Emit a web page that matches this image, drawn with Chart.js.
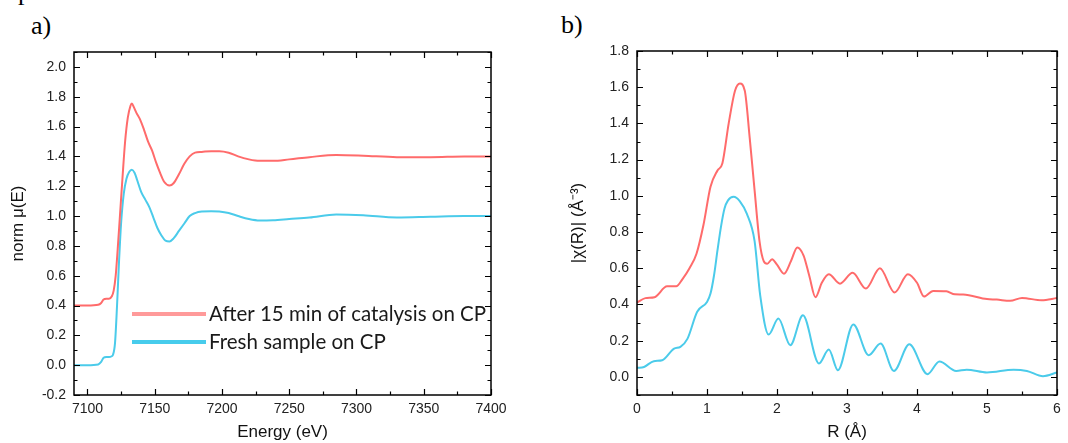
<!DOCTYPE html>
<html>
<head>
<meta charset="utf-8">
<title>XANES and EXAFS</title>
<script src="https://cdn.jsdelivr.net/npm/chart.js"></script>
<style>
	body { margin: 0; background: #fff; width: 1068px; height: 443px; overflow: hidden; position: relative; }
	canvas { position: absolute; top: 0; }
	#chartA { left: 0; }
	#chartB { left: 534px; }
	.tag { position: absolute; font-family: "Liberation Serif", "Times New Roman", serif; font-size: 26px; line-height: 26px; color: #000; }
</style>
</head>
<body>
<div class="tag" style="left:18px; top:-21px;">process.</div>
<div class="tag" style="left:31px; top:13px;">a)</div>
<div class="tag" style="left:561px; top:12px;">b)</div>
<canvas id="chartA" width="534" height="443"></canvas>
<canvas id="chartB" width="534" height="443"></canvas>
<script>
// a) XANES, normalised absorption
const afterLabel = 'After 15 min of catalysis on CP';
const freshLabel = 'Fresh sample on CP';

const afterEnergy = [7090, 7100, 7108, 7110, 7112, 7114, 7116, 7118, 7119.5, 7121, 7122.5, 7124, 7126, 7128, 7130, 7132, 7133, 7134.5, 7136.5, 7139, 7142, 7145, 7148, 7151, 7154, 7157, 7161, 7164, 7168, 7172, 7176, 7180, 7185, 7192, 7198, 7205, 7212, 7220, 7228, 7238, 7250, 7265, 7285, 7305, 7330, 7355, 7380, 7400];
const afterMu = [0.40, 0.40, 0.405, 0.415, 0.44, 0.445, 0.445, 0.46, 0.50, 0.60, 0.78, 0.98, 1.25, 1.50, 1.66, 1.74, 1.755, 1.73, 1.69, 1.65, 1.58, 1.50, 1.44, 1.36, 1.29, 1.23, 1.205, 1.22, 1.28, 1.35, 1.40, 1.425, 1.43, 1.435, 1.435, 1.425, 1.40, 1.38, 1.37, 1.37, 1.38, 1.395, 1.41, 1.405, 1.395, 1.395, 1.40, 1.40];

const freshEnergy = [7090, 7100, 7108, 7110, 7112, 7114, 7116, 7118, 7119, 7120.5, 7122, 7123.5, 7125, 7127, 7129, 7131, 7133, 7135, 7137, 7140, 7143, 7146, 7149, 7152, 7155, 7158, 7161, 7164, 7168, 7172, 7176, 7180, 7185, 7192, 7198, 7205, 7212, 7220, 7228, 7238, 7250, 7265, 7285, 7305, 7330, 7355, 7380, 7400];
const freshMu = [0, 0, 0.005, 0.02, 0.05, 0.055, 0.055, 0.06, 0.07, 0.15, 0.40, 0.70, 0.95, 1.15, 1.25, 1.295, 1.31, 1.29, 1.24, 1.16, 1.11, 1.06, 0.99, 0.92, 0.87, 0.835, 0.83, 0.85, 0.90, 0.95, 1.00, 1.02, 1.03, 1.032, 1.03, 1.02, 1.00, 0.98, 0.97, 0.972, 0.98, 0.99, 1.01, 1.005, 0.99, 0.995, 1.00, 1.00];

// b) Fourier transform magnitude
const afterR = [0, 0.12, 0.25, 0.43, 0.56, 0.65, 0.75, 0.85, 0.95, 1.05, 1.15, 1.22, 1.31, 1.40, 1.47, 1.54, 1.61, 1.68, 1.75, 1.81, 1.86, 1.93, 2.0, 2.1, 2.2, 2.29, 2.38, 2.46, 2.55, 2.64, 2.74, 2.9, 3.08, 3.27, 3.47, 3.68, 3.87, 4.0, 4.1, 4.23, 4.42, 4.54, 4.66, 5.0, 5.14, 5.33, 5.5, 5.78, 6.0];
const afterChi = [0.41, 0.435, 0.44, 0.50, 0.50, 0.54, 0.60, 0.68, 0.84, 1.05, 1.14, 1.18, 1.40, 1.58, 1.62, 1.58, 1.32, 1.03, 0.75, 0.64, 0.625, 0.65, 0.62, 0.57, 0.64, 0.715, 0.67, 0.56, 0.44, 0.52, 0.567, 0.515, 0.575, 0.488, 0.60, 0.466, 0.567, 0.52, 0.444, 0.475, 0.473, 0.456, 0.455, 0.43, 0.427, 0.42, 0.436, 0.423, 0.436];

const freshR = [0, 0.1, 0.24, 0.36, 0.53, 0.62, 0.72, 0.86, 1.0, 1.05, 1.1, 1.15, 1.2, 1.25, 1.3, 1.38, 1.47, 1.57, 1.68, 1.76, 1.88, 2.02, 2.19, 2.37, 2.6, 2.74, 2.87, 3.09, 3.31, 3.48, 3.67, 3.89, 4.15, 4.32, 4.56, 4.71, 5.0, 5.38, 5.57, 5.8, 6.0];
const freshChi = [0.05, 0.055, 0.087, 0.092, 0.156, 0.166, 0.21, 0.36, 0.414, 0.46, 0.56, 0.70, 0.83, 0.93, 0.975, 0.995, 0.97, 0.90, 0.75, 0.45, 0.234, 0.322, 0.175, 0.34, 0.074, 0.151, 0.037, 0.29, 0.12, 0.184, 0.033, 0.18, 0.015, 0.085, 0.033, 0.04, 0.024, 0.04, 0.033, 0.004, 0.024];

const redLine = '#ff6b6b';
const cyanLine = '#4bcbea';
const tickFont = { family: '"Liberation Sans", Arial, sans-serif', size: 14 };
const titleFont = { family: '"Liberation Sans", Arial, sans-serif', size: 17 };

function points(xs, ys) {
	return xs.map((x, i) => ({ x: x, y: ys[i] }));
}

// box frame with inward major/minor ticks on all four sides
const frameTicks = {
	id: 'frameTicks',
	afterDatasetsDraw(chart, args, opts) {
		const ctx = chart.ctx;
		const a = chart.chartArea;
		const sx = chart.scales.x, sy = chart.scales.y;
		ctx.save();
		ctx.strokeStyle = '#000';
		ctx.lineWidth = 1.5;
		ctx.strokeRect(a.left, a.top, a.right - a.left, a.bottom - a.top);
		ctx.lineWidth = 1.2;
		ctx.beginPath();
		for (let i = Math.ceil(sx.min / opts.xMinor - 1e-9); i * opts.xMinor <= sx.max + 1e-9; i++) {
			const px = Math.round(sx.getPixelForValue(i * opts.xMinor)) + 0.5;
			const len = i % 2 === 0 ? 6 : 3.5;
			ctx.moveTo(px, a.bottom); ctx.lineTo(px, a.bottom - len);
			ctx.moveTo(px, a.top); ctx.lineTo(px, a.top + len);
		}
		for (let i = Math.ceil(sy.min / opts.yMinor - 1e-9); i * opts.yMinor <= sy.max + 1e-9; i++) {
			const py = Math.round(sy.getPixelForValue(i * opts.yMinor)) + 0.5;
			const len = i % 2 === 0 ? 6 : 3.5;
			ctx.moveTo(a.left, py); ctx.lineTo(a.left + len, py);
			ctx.moveTo(a.right, py); ctx.lineTo(a.right - len, py);
		}
		ctx.stroke();
		ctx.restore();
	}
};

const insideLegend = {
	id: 'insideLegend',
	afterDraw(chart, args, opts) {
		if (!opts.show) return;
		const ctx = chart.ctx;
		ctx.save();
		ctx.font = opts.font;
		ctx.textBaseline = 'middle';
		chart.data.datasets.forEach((ds, i) => {
			const yy = opts.y + i * opts.gap;
			ctx.strokeStyle = opts.colors[i];
			ctx.lineWidth = 4;
			ctx.beginPath();
			ctx.moveTo(opts.x, yy);
			ctx.lineTo(opts.x + opts.len, yy);
			ctx.stroke();
			ctx.fillStyle = '#1a1a1a';
			ctx.fillText(ds.label, opts.x + opts.len + 3, yy);
		});
		ctx.restore();
	}
};

function lineSet(label, data, color) {
	return {
		label: label,
		data: data,
		borderColor: color,
		borderWidth: 2,
		pointRadius: 0,
		cubicInterpolationMode: 'monotone',
		fill: false
	};
}

function makeChart(id, cfg) {
	return new Chart(document.getElementById(id), {
		type: 'line',
		data: { datasets: cfg.datasets },
		options: {
			responsive: false,
			animation: false,
			devicePixelRatio: 1,
			layout: { padding: { left: 0, top: cfg.top, right: cfg.right, bottom: 0 } },
			plugins: {
				legend: { display: false },
				tooltip: { enabled: false },
				frameTicks: { xMinor: cfg.xMinor, yMinor: cfg.yMinor },
				insideLegend: cfg.legend || { show: false }
			},
			scales: {
				x: {
					type: 'linear',
					min: cfg.xMin, max: cfg.xMax,
					grid: { display: false, drawTicks: false },
					border: { display: false },
					ticks: {
						stepSize: cfg.xMinor * 2, includeBounds: false, autoSkip: false, maxRotation: 0,
						padding: 6, font: tickFont, color: '#222',
						callback: v => String(Math.round(v))
					},
					title: { display: true, text: cfg.xTitle, font: titleFont, color: '#111', padding: { top: 0, bottom: 0 } },
					afterFit: s => { s.height = 48; }
				},
				y: {
					type: 'linear',
					min: cfg.yMin, max: cfg.yMax,
					grid: { display: false, drawTicks: false },
					border: { display: false },
					ticks: {
						stepSize: cfg.yMinor * 2, includeBounds: false, autoSkip: false,
						padding: 8, font: tickFont, color: '#222',
						callback: v => Math.abs(v) < 1e-9 ? '0.0' : v.toFixed(1)
					},
					title: { display: true, text: cfg.yTitle, font: titleFont, color: '#111', padding: { top: cfg.yTitlePad, bottom: 0 } },
					afterFit: s => { s.width = cfg.yWidth; }
				}
			}
		},
		plugins: [frameTicks, insideLegend]
	});
}

makeChart('chartA', {
	datasets: [
		lineSet(afterLabel, points(afterEnergy, afterMu), redLine),
		lineSet(freshLabel, points(freshEnergy, freshMu), cyanLine)
	],
	xMin: 7090, xMax: 7400, xMinor: 25,
	yMin: -0.2, yMax: 2.1, yMinor: 0.1,
	xTitle: 'Energy (eV)', yTitle: 'norm \u03bc(E)',
	top: 52, right: 43, yWidth: 74, yTitlePad: 8,
	legend: { show: true, x: 132, y: 314, gap: 28, len: 74, font: '20.5px Lato', colors: ['#ff9a9a', '#47ccec'] }
});

makeChart('chartB', {
	datasets: [
		lineSet(afterLabel, points(afterR, afterChi), redLine),
		lineSet(freshLabel, points(freshR, freshChi), cyanLine)
	],
	xMin: 0, xMax: 6, xMinor: 0.5,
	yMin: -0.1, yMax: 1.8, yMinor: 0.1,
	xTitle: 'R (\u00c5)', yTitle: '|\u03c7(R)| (\u00c5\u207b\u00b3)',
	top: 51, right: 11, yWidth: 103, yTitlePad: 34
});
</script>
</body>
</html>
